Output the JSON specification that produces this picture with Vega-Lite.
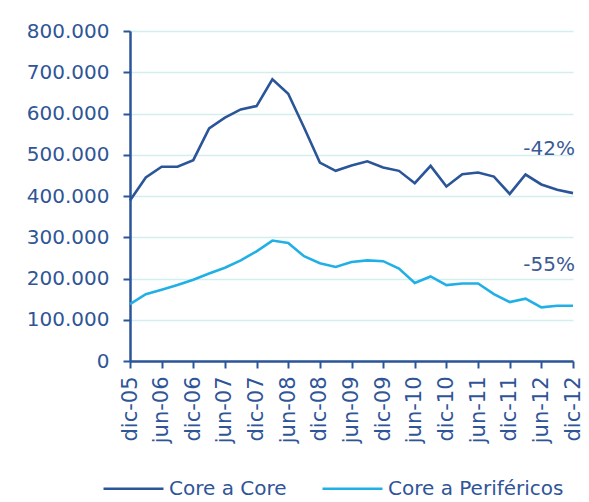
{
  "$schema": "https://vega.github.io/schema/vega-lite/v6.json",
  "width": 443,
  "height": 330,
  "autosize": {"type": "none"},
  "padding": {"left": 130, "top": 31, "right": 16, "bottom": 141},
  "background": "white",
  "config": {
    "view": {"stroke": null},
    "font": "DejaVu Sans",
    "axis": {"labelFont": "DejaVu Sans", "labelColor": "#2f5597"}
  },
  "datasets": {
    "series": [
      {"t": "dic-05", "serie": "Core a Core", "v": 389000},
      {"t": "mar-06", "serie": "Core a Core", "v": 445000},
      {"t": "jun-06", "serie": "Core a Core", "v": 471000},
      {"t": "sep-06", "serie": "Core a Core", "v": 471000},
      {"t": "dic-06", "serie": "Core a Core", "v": 487000},
      {"t": "mar-07", "serie": "Core a Core", "v": 564000},
      {"t": "jun-07", "serie": "Core a Core", "v": 590000},
      {"t": "sep-07", "serie": "Core a Core", "v": 610000},
      {"t": "dic-07", "serie": "Core a Core", "v": 618000},
      {"t": "mar-08", "serie": "Core a Core", "v": 683000},
      {"t": "jun-08", "serie": "Core a Core", "v": 648000},
      {"t": "sep-08", "serie": "Core a Core", "v": 566000},
      {"t": "dic-08", "serie": "Core a Core", "v": 481000},
      {"t": "mar-09", "serie": "Core a Core", "v": 461000},
      {"t": "jun-09", "serie": "Core a Core", "v": 474000},
      {"t": "sep-09", "serie": "Core a Core", "v": 484000},
      {"t": "dic-09", "serie": "Core a Core", "v": 469000},
      {"t": "mar-10", "serie": "Core a Core", "v": 461000},
      {"t": "jun-10", "serie": "Core a Core", "v": 431000},
      {"t": "sep-10", "serie": "Core a Core", "v": 473000},
      {"t": "dic-10", "serie": "Core a Core", "v": 423000},
      {"t": "mar-11", "serie": "Core a Core", "v": 453000},
      {"t": "jun-11", "serie": "Core a Core", "v": 457000},
      {"t": "sep-11", "serie": "Core a Core", "v": 447000},
      {"t": "dic-11", "serie": "Core a Core", "v": 405000},
      {"t": "mar-12", "serie": "Core a Core", "v": 452000},
      {"t": "jun-12", "serie": "Core a Core", "v": 428000},
      {"t": "sep-12", "serie": "Core a Core", "v": 415000},
      {"t": "dic-12", "serie": "Core a Core", "v": 407000},
      {"t": "dic-05", "serie": "Core a Periféricos", "v": 138000},
      {"t": "mar-06", "serie": "Core a Periféricos", "v": 162000},
      {"t": "jun-06", "serie": "Core a Periféricos", "v": 173000},
      {"t": "sep-06", "serie": "Core a Periféricos", "v": 184000},
      {"t": "dic-06", "serie": "Core a Periféricos", "v": 197000},
      {"t": "mar-07", "serie": "Core a Periféricos", "v": 212000},
      {"t": "jun-07", "serie": "Core a Periféricos", "v": 226000},
      {"t": "sep-07", "serie": "Core a Periféricos", "v": 244000},
      {"t": "dic-07", "serie": "Core a Periféricos", "v": 266000},
      {"t": "mar-08", "serie": "Core a Periféricos", "v": 292000},
      {"t": "jun-08", "serie": "Core a Periféricos", "v": 286000},
      {"t": "sep-08", "serie": "Core a Periféricos", "v": 254000},
      {"t": "dic-08", "serie": "Core a Periféricos", "v": 237000},
      {"t": "mar-09", "serie": "Core a Periféricos", "v": 228000},
      {"t": "jun-09", "serie": "Core a Periféricos", "v": 240000},
      {"t": "sep-09", "serie": "Core a Periféricos", "v": 244000},
      {"t": "dic-09", "serie": "Core a Periféricos", "v": 242000},
      {"t": "mar-10", "serie": "Core a Periféricos", "v": 224000},
      {"t": "jun-10", "serie": "Core a Periféricos", "v": 189000},
      {"t": "sep-10", "serie": "Core a Periféricos", "v": 205000},
      {"t": "dic-10", "serie": "Core a Periféricos", "v": 184000},
      {"t": "mar-11", "serie": "Core a Periféricos", "v": 188000},
      {"t": "jun-11", "serie": "Core a Periféricos", "v": 188000},
      {"t": "sep-11", "serie": "Core a Periféricos", "v": 162000},
      {"t": "dic-11", "serie": "Core a Periféricos", "v": 143000},
      {"t": "mar-12", "serie": "Core a Periféricos", "v": 151000},
      {"t": "jun-12", "serie": "Core a Periféricos", "v": 130000},
      {"t": "sep-12", "serie": "Core a Periféricos", "v": 134000},
      {"t": "dic-12", "serie": "Core a Periféricos", "v": 134000}
    ],
    "notes": [
      {"t": "dic-12", "v": 515000, "label": "-42%"},
      {"t": "dic-12", "v": 232000, "label": "-55%"}
    ]
  },
  "encoding": {
    "x": {
      "field": "t", "type": "ordinal", "sort": null,
      "scale": {"type": "point", "padding": 0},
      "axis": {
        "title": null,
        "values": ["dic-05","jun-06","dic-06","jun-07","dic-07","jun-08","dic-08","jun-09","dic-09","jun-10","dic-10","jun-11","dic-11","jun-12","dic-12"],
        "labelAngle": 270,
        "labelAlign": "right",
        "labelBaseline": "middle",
        "labelFontSize": 21,
        "labelPadding": 8,
        "labelOverlap": false,
        "domainColor": "#2a5599",
        "domainWidth": 2.5,
        "tickColor": "#2a5599",
        "tickWidth": 2,
        "tickSize": 7,
        "grid": false
      }
    },
    "y": {
      "field": "v", "type": "quantitative",
      "scale": {"domain": [0, 800000], "nice": false},
      "axis": {
        "title": null,
        "values": [0,100000,200000,300000,400000,500000,600000,700000,800000],
        "labelExpr": "replace(format(datum.value, ','), ',', '.')",
        "labelFontSize": 20,
        "labelPadding": 14,
        "domainColor": "#2a5599",
        "domainWidth": 2.5,
        "tickColor": "#2a5599",
        "tickWidth": 2,
        "tickSize": 7,
        "grid": true,
        "gridColor": "#d3eeee",
        "gridWidth": 1.5
      }
    }
  },
  "layer": [
    {
      "data": {"name": "series"},
      "mark": {"type": "line", "strokeWidth": 2.6},
      "encoding": {
        "color": {
          "field": "serie", "type": "nominal",
          "scale": {"domain": ["Core a Core", "Core a Periféricos"], "range": ["#2a5599", "#21b0e6"]},
          "legend": {
            "title": null,
            "orient": "none",
            "direction": "horizontal",
            "legendX": -28,
            "legendY": 426,
            "symbolType": "stroke",
            "symbolSize": 3600,
            "symbolStrokeWidth": 2.5,
            "labelFontSize": 20,
            "labelColor": "#2f5597",
            "labelOffset": 4,
            "columnPadding": 30,
            "labelLimit": 300
          }
        }
      }
    },
    {
      "data": {"name": "notes"},
      "mark": {"type": "text", "align": "right", "baseline": "middle", "fontSize": 20, "color": "#3a5a95", "dx": 2},
      "encoding": {
        "text": {"field": "label"}
      }
    }
  ]
}
